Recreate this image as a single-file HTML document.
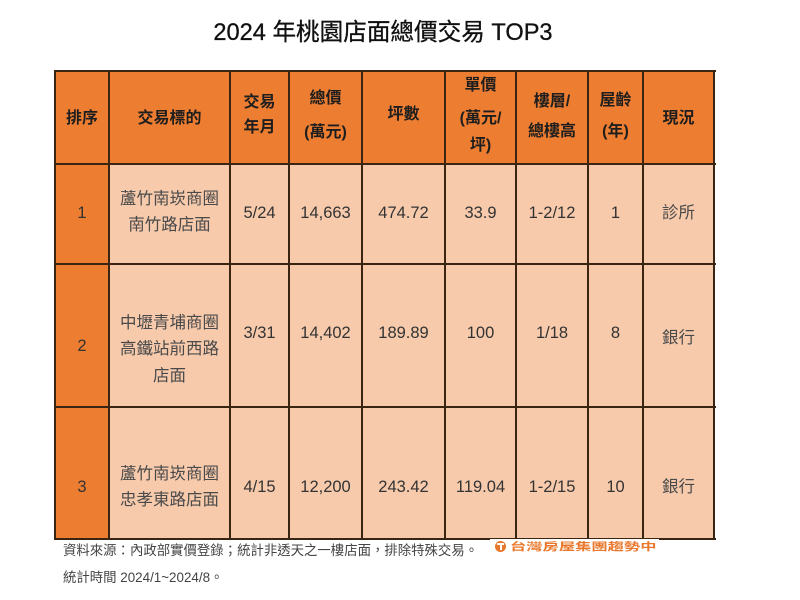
<!DOCTYPE html>
<html><head><meta charset="utf-8">
<style>
html,body{margin:0;padding:0;background:#fff;}
body{width:800px;height:600px;position:relative;overflow:hidden;font-family:"Liberation Sans","Noto Sans CJK TC",sans-serif;}
.a{position:absolute;}
.t{position:absolute;text-align:center;white-space:nowrap;}
.h{font-size:16px;font-weight:bold;color:#1e1e1e;line-height:20px;height:20px;}
.d{font-size:16.5px;color:#333;line-height:20px;height:20px;}
.n{color:#4a4a4a;}
.vl{position:absolute;width:2px;background:#3a2412;top:70px;height:470px;}
.hl{position:absolute;height:2px;background:#3a2412;left:54px;width:662px;}
</style></head><body>
<div class="t" style="left:0;width:766px;top:18px;font-size:23.6px;line-height:30px;color:#111;-webkit-text-stroke:0.3px #111;">2024 年桃園店面總價交易 TOP3</div>

<!-- backgrounds -->
<div class="a" style="left:55px;top:71px;width:660px;height:93px;background:#ED7D31;"></div>
<div class="a" style="left:55px;top:164px;width:54px;height:375px;background:#ED7D31;"></div>
<div class="a" style="left:109px;top:164px;width:606px;height:375px;background:#F7CAAC;"></div>

<!-- grid lines -->
<div class="vl" style="left:54px;"></div>
<div class="vl" style="left:108px;"></div>
<div class="vl" style="left:229px;"></div>
<div class="vl" style="left:288px;"></div>
<div class="vl" style="left:361px;"></div>
<div class="vl" style="left:444px;"></div>
<div class="vl" style="left:515px;"></div>
<div class="vl" style="left:587px;"></div>
<div class="vl" style="left:642px;"></div>
<div class="vl" style="left:713px;"></div>
<div class="hl" style="top:70px;"></div>
<div class="hl" style="top:163px;"></div>
<div class="hl" style="top:263px;"></div>
<div class="hl" style="top:406px;"></div>
<div class="hl" style="top:538px;"></div>

<!-- header -->
<div class="t h" style="left:55px;width:54px;top:109px;">排序</div>
<div class="t h" style="left:109px;width:121px;top:109px;">交易標的</div>
<div class="t h" style="left:230px;width:59px;top:93px;">交易</div>
<div class="t h" style="left:230px;width:59px;top:118px;">年月</div>
<div class="t h" style="left:289px;width:73px;top:89px;">總價</div>
<div class="t h" style="left:289px;width:73px;top:123px;">(萬元)</div>
<div class="t h" style="left:362px;width:83px;top:105px;">坪數</div>
<div class="t h" style="left:445px;width:71px;top:76px;">單價</div>
<div class="t h" style="left:445px;width:71px;top:109px;">(萬元/</div>
<div class="t h" style="left:445px;width:71px;top:136px;">坪)</div>
<div class="t h" style="left:516px;width:72px;top:92px;">樓層/</div>
<div class="t h" style="left:516px;width:72px;top:122px;">總樓高</div>
<div class="t h" style="left:588px;width:55px;top:91px;">屋齡</div>
<div class="t h" style="left:588px;width:55px;top:122px;">(年)</div>
<div class="t h" style="left:643px;width:71px;top:109px;">現況</div>

<!-- row 1 -->
<div class="t d" style="left:55px;width:54px;top:203px;">1</div>
<div class="t d n" style="left:109px;width:121px;top:189px;">蘆竹南崁商圈</div>
<div class="t d n" style="left:109px;width:121px;top:215px;">南竹路店面</div>
<div class="t d" style="left:230px;width:59px;top:203px;">5/24</div>
<div class="t d" style="left:289px;width:73px;top:203px;">14,663</div>
<div class="t d" style="left:362px;width:83px;top:203px;">474.72</div>
<div class="t d" style="left:445px;width:71px;top:203px;">33.9</div>
<div class="t d" style="left:516px;width:72px;top:203px;">1-2/12</div>
<div class="t d" style="left:588px;width:55px;top:203px;">1</div>
<div class="t d n" style="left:643px;width:71px;top:203px;">診所</div>

<!-- row 2 -->
<div class="t d" style="left:55px;width:54px;top:336px;">2</div>
<div class="t d n" style="left:109px;width:121px;top:313px;">中壢青埔商圈</div>
<div class="t d n" style="left:109px;width:121px;top:339px;">高鐵站前西路</div>
<div class="t d n" style="left:109px;width:121px;top:366px;">店面</div>
<div class="t d" style="left:230px;width:59px;top:323px;">3/31</div>
<div class="t d" style="left:289px;width:73px;top:323px;">14,402</div>
<div class="t d" style="left:362px;width:83px;top:323px;">189.89</div>
<div class="t d" style="left:445px;width:71px;top:323px;">100</div>
<div class="t d" style="left:516px;width:72px;top:323px;">1/18</div>
<div class="t d" style="left:588px;width:55px;top:323px;">8</div>
<div class="t d n" style="left:643px;width:71px;top:328px;">銀行</div>

<!-- row 3 -->
<div class="t d" style="left:55px;width:54px;top:477px;">3</div>
<div class="t d n" style="left:109px;width:121px;top:464px;">蘆竹南崁商圈</div>
<div class="t d n" style="left:109px;width:121px;top:490px;">忠孝東路店面</div>
<div class="t d" style="left:230px;width:59px;top:477px;">4/15</div>
<div class="t d" style="left:289px;width:73px;top:477px;">12,200</div>
<div class="t d" style="left:362px;width:83px;top:477px;">243.42</div>
<div class="t d" style="left:445px;width:71px;top:477px;">119.04</div>
<div class="t d" style="left:516px;width:72px;top:477px;">1-2/15</div>
<div class="t d" style="left:588px;width:55px;top:477px;">10</div>
<div class="t d n" style="left:643px;width:71px;top:477px;">銀行</div>

<!-- logo -->
<div class="a" style="left:490px;top:539px;width:169px;height:21px;background:#fff;"></div>
<div class="a" style="left:495px;top:541px;width:11px;height:11px;border-radius:50%;background:#E9782C;"></div>
<div class="a" style="left:497px;top:543px;width:7px;height:2px;background:#fff;"></div>
<div class="a" style="left:499.5px;top:545px;width:2px;height:5px;background:#fff;"></div>
<div class="a" style="left:510px;top:539px;width:146px;height:16px;overflow:hidden;">
  <div style="font-size:10.5px;font-weight:bold;color:#E9782C;line-height:16px;white-space:nowrap;transform:scale(1.55,1);transform-origin:0 50%;">台灣房屋集團趨勢中心</div>
</div>

<!-- footer -->
<div class="a" style="left:63px;top:542px;font-size:13.4px;line-height:18px;color:#444;white-space:nowrap;">資料來源：內政部實價登錄；統計非透天之一樓店面，排除特殊交易。</div>
<div class="a" style="left:63px;top:569px;font-size:13.4px;line-height:18px;color:#444;white-space:nowrap;">統計時間 2024/1~2024/8。</div>
</body></html>
